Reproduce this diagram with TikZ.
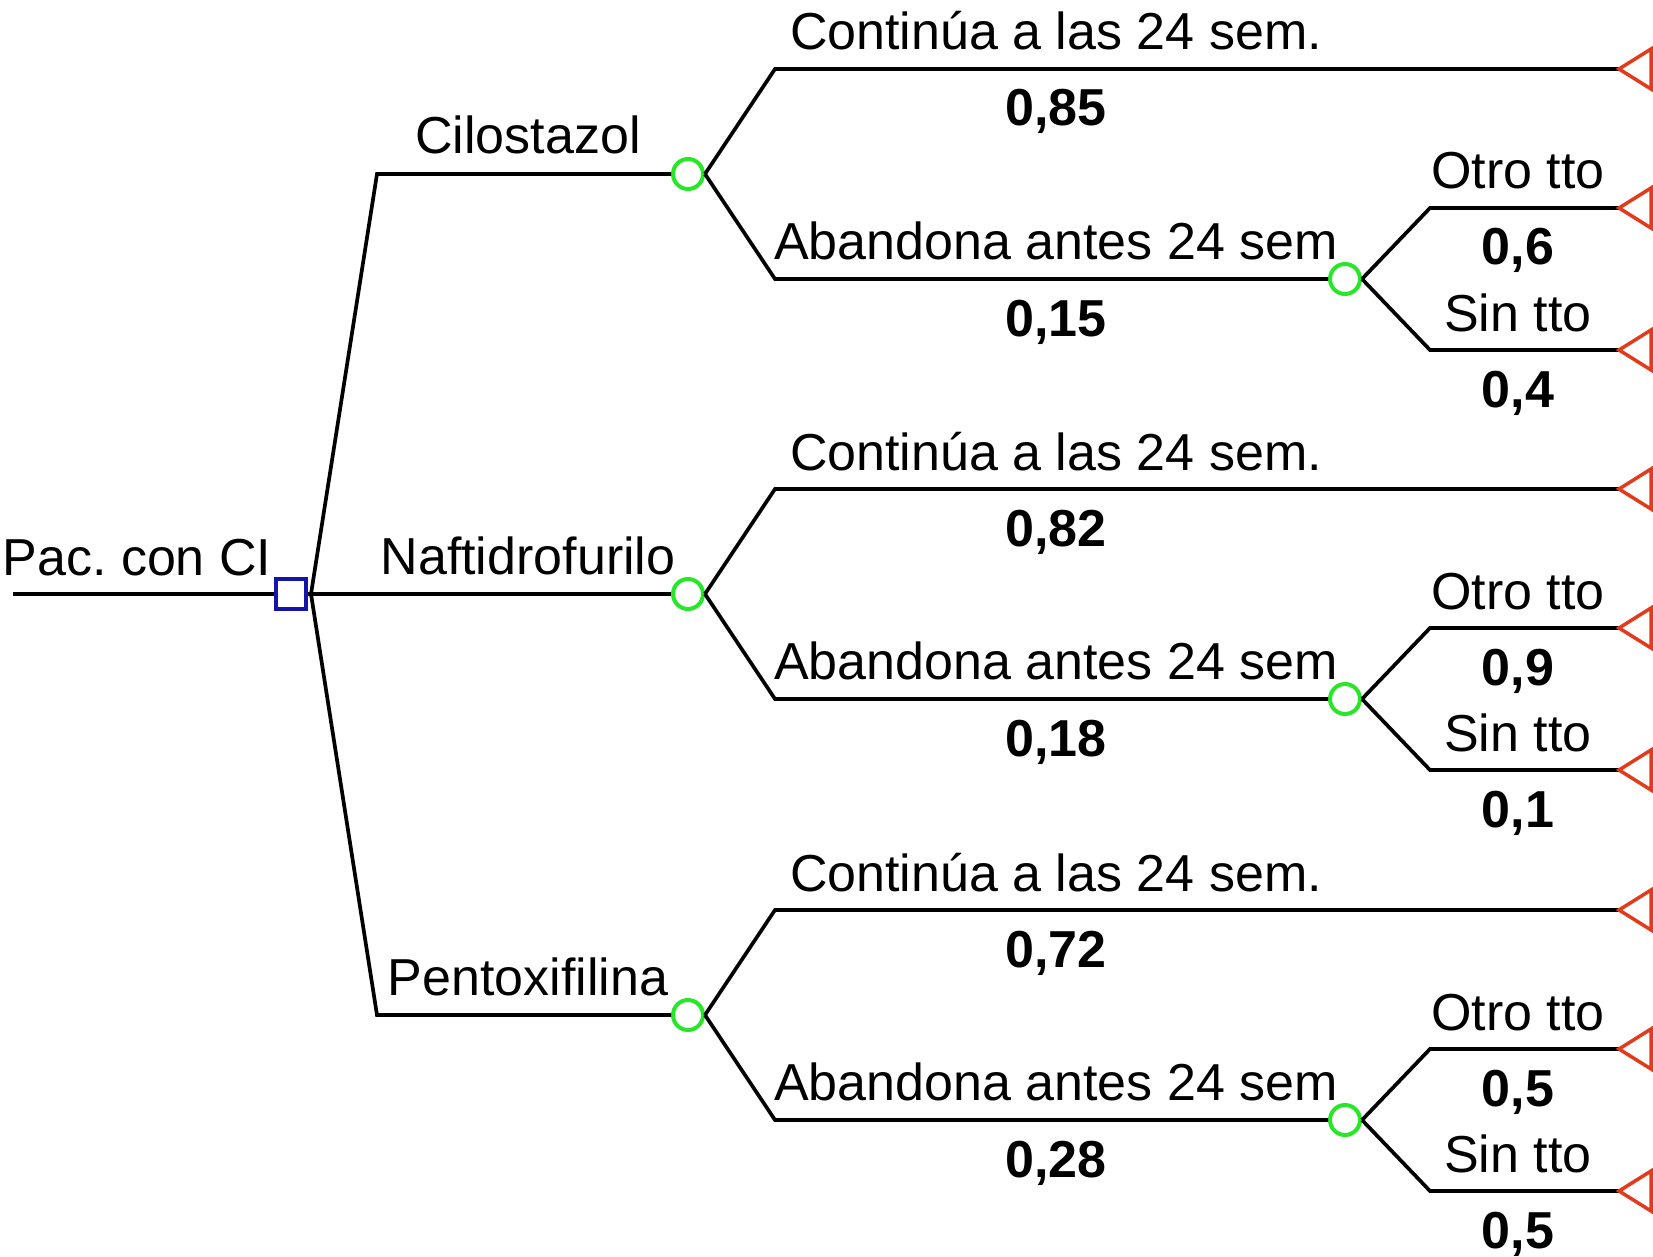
\documentclass[tikz,border=0pt]{standalone}
\usepackage{fontspec}
\setmainfont{Liberation Sans}
\definecolor{cgreen}{RGB}{40,230,40}
\definecolor{tred}{RGB}{228,58,28}
\definecolor{dblue}{RGB}{20,20,170}
\frenchspacing
\begin{document}
\begin{tikzpicture}[x=1pt,y=-1pt,
  line/.style={line width=3.7pt, black},
  chance/.style={circle, draw=cgreen, line width=4pt, minimum size=30pt, inner sep=0pt, fill=white},
  decision/.style={rectangle, draw=dblue, line width=3.5pt, minimum size=30pt, inner sep=0pt, fill=white},
  term/.style={draw=tred, line width=3.5pt, line join=miter},
  lbl/.style={anchor=base, font=\fontsize{52}{60}\selectfont, inner sep=0pt},
  prob/.style={anchor=base, font=\fontsize{52}{60}\selectfont\bfseries, inner sep=0pt}]
\useasboundingbox (0,0) rectangle (1653,1257);
\node[decision] (dec) at (291,594) {};
\coordinate (root) at (13,594);
\coordinate (dfork) at (311,594);
\draw[line] (root) -- (dec.west);
\draw[line] (dec.east) -- (dfork);
\node[lbl] (rootlbl) at (137,575) {Pac. con CI};
\foreach \i/\c/\name/\pa/\pb/\pc/\pd in {
  1/174/Cilostazol/{0,85}/{0,15}/{0,6}/{0,4},
  2/594/Naftidrofurilo/{0,82}/{0,18}/{0,9}/{0,1},
  3/1015/Pentoxifilina/{0,72}/{0,28}/{0,5}/{0,5}}{
  \coordinate (b\i) at (377,\c);
  \node[chance] (c\i) at (688,\c) {};
  \draw[line] (dfork) -- (b\i) -- (c\i);
  \node[lbl] (n\i) at (528,\c-20) {\name};
  % continue branch
  \coordinate (u\i) at (775,\c-105);
  \coordinate (ut\i) at (1619,\c-105);
  \draw[line] (c\i.east) -- (u\i) -- (ut\i);
  \draw[term] (ut\i) -- ++(32,-20) -- ++(0,40) -- cycle;
  \node[lbl] (ua\i) at (1056,\c-105-19) {Continúa a las 24 sem.};
  \node[prob] (up\i) at (1056,\c-105+57) {\pa};
  % abandon branch
  \coordinate (l\i) at (775,\c+105);
  \node[chance] (s\i) at (1345,\c+105) {};
  \draw[line] (c\i.east) -- (l\i) -- (s\i);
  \node[lbl] (la\i) at (1056,\c+105-20) {Abandona antes 24 sem};
  \node[prob] (lp\i) at (1056,\c+105+57) {\pb};
  % sub branches
  \coordinate (o\i) at (1430,\c+34);
  \coordinate (ot\i) at (1619,\c+34);
  \coordinate (p\i) at (1430,\c+176);
  \coordinate (pt\i) at (1619,\c+176);
  \draw[line] (s\i.east) -- (o\i) -- (ot\i);
  \draw[line] (s\i.east) -- (p\i) -- (pt\i);
  \draw[term] (ot\i) -- ++(32,-20) -- ++(0,40) -- cycle;
  \draw[term] (pt\i) -- ++(32,-20) -- ++(0,40) -- cycle;
  \node[lbl] (oa\i) at (1518,\c+34-19) {Otro tto};
  \node[prob] (op\i) at (1518,\c+34+57) {\pc};
  \node[lbl] (pa\i) at (1518,\c+176-19) {Sin tto};
  \node[prob] (pp\i) at (1518,\c+176+57) {\pd};
}
\end{tikzpicture}
\end{document}
